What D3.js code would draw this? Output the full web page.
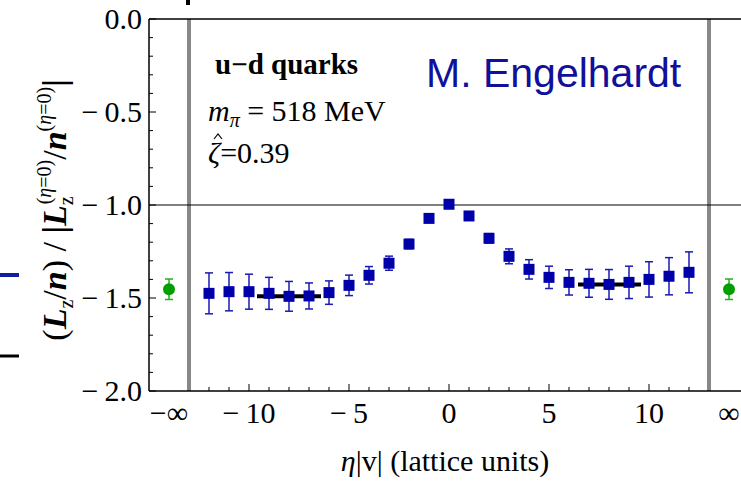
<!DOCTYPE html>
<html><head><meta charset="utf-8">
<script src="https://cdn.jsdelivr.net/npm/d3@7"></script>
<style>html,body{margin:0;padding:0;background:#fff;} svg{display:block;}</style>
</head><body>
<svg id="c" width="741" height="484"></svg>
<script>
// ---- data ----
const eta = [-12,-11,-10,-9,-8,-7,-6,-5,-4,-3,-2,-1,0,1,2,3,4,5,6,7,8,9,10,11,12];
const ratio = [-1.475,-1.466,-1.466,-1.475,-1.491,-1.489,-1.471,-1.432,-1.378,-1.313,-1.210,-1.072,-0.996,-1.059,-1.179,-1.276,-1.346,-1.389,-1.416,-1.421,-1.427,-1.416,-1.400,-1.383,-1.362];
const ratioErr = [0.110,0.103,0.094,0.086,0.080,0.070,0.063,0.055,0.047,0.038,0.025,0.015,0.0,0.015,0.025,0.040,0.052,0.060,0.068,0.075,0.080,0.087,0.095,0.100,0.110];
const infEta = [-14, 14];            // positions standing for -inf / +inf
const infValue = [-1.453, -1.453];
const infErr = [0.055, 0.055];
const fitRanges = [[-9.6, -6.4], [6.45, 9.6]];
const fitValues = [-1.490, -1.427];
const boundaryEta = [-13, 13];
const xTickMajor = [-10, -5, 0, 5, 10];
const xTickLabels = ["\u2212\u200910", "\u2212\u20095", "0", "5", "10"];
const infLabels = ["\u2212\u221E", "\u221E"];
const yTickMajor = [0, -0.5, -1, -1.5, -2];
const yTickLabels = ["0.0", "\u2212\u20090.5", "\u2212\u20091.0", "\u2212\u20091.5", "\u2212\u20092.0"];

const svg = d3.select("#c");
const x = d3.scaleLinear().domain([-15, 15]).range([149, 749]);
const y = d3.scaleLinear().domain([0, -2]).range([19, 391]);
const serif = "'Liberation Serif','Times New Roman',serif";
const blue = "#0000aa";
const green = "#00a000";

// gray boundary lines
svg.selectAll("line.bd").data(boundaryEta).enter().append("line")
  .attr("x1", d => x(d)).attr("x2", d => x(d)).attr("y1", y(0)).attr("y2", y(-2))
  .attr("stroke", "#888").attr("stroke-width", 4);

// horizontal reference line at -1
svg.append("line").attr("x1", x(-15)).attr("x2", x(15)).attr("y1", y(-1)).attr("y2", y(-1))
  .attr("stroke", "#000").attr("stroke-width", 1.2);

// frame
svg.append("line").attr("x1", x(-15)).attr("x2", x(15)).attr("y1", y(0)).attr("y2", y(0)).attr("stroke","#000").attr("stroke-width",1.5);
svg.append("line").attr("x1", x(-15)).attr("x2", x(15)).attr("y1", y(-2)).attr("y2", y(-2)).attr("stroke","#000").attr("stroke-width",1.5);
svg.append("line").attr("x1", x(-15)).attr("x2", x(-15)).attr("y1", y(0)).attr("y2", y(-2)).attr("stroke","#000").attr("stroke-width",1.5);

// x ticks (inside, pointing up)
const xMinor = d3.range(-12, 13);
svg.selectAll("line.xt").data(xMinor).enter().append("line")
  .attr("x1", d => x(d)).attr("x2", d => x(d)).attr("y1", y(-2))
  .attr("y2", d => y(-2) - (d % 5 === 0 ? 7 : 4)).attr("stroke", "#000").attr("stroke-width", 1);
svg.selectAll("text.xl").data(xTickMajor).enter().append("text")
  .attr("x", d => x(d)).attr("y", 423).attr("text-anchor", "middle")
  .attr("font-family", serif).attr("font-size", 30).text((d, i) => xTickLabels[i]);
svg.selectAll("text.il").data(infEta).enter().append("text")
  .attr("x", d => x(d)).attr("y", 423).attr("text-anchor", "middle")
  .attr("font-family", serif).attr("font-size", 30).text((d, i) => infLabels[i]);

// y ticks (inside, pointing right)
const yMinor = d3.range(0, 21).map(i => -i / 10);
svg.selectAll("line.yt").data(yMinor).enter().append("line")
  .attr("x1", x(-15)).attr("x2", (d, i) => x(-15) + (i % 5 === 0 ? 7 : 4))
  .attr("y1", d => y(d)).attr("y2", d => y(d)).attr("stroke", "#000").attr("stroke-width", 1);
svg.selectAll("text.yl").data(yTickMajor).enter().append("text")
  .attr("x", 142).attr("y", d => y(d) + 10).attr("text-anchor", "end")
  .attr("font-family", serif).attr("font-size", 30).text((d, i) => yTickLabels[i]);

// fit lines
svg.selectAll("line.fit").data(fitRanges).enter().append("line")
  .attr("x1", d => x(d[0])).attr("x2", d => x(d[1]))
  .attr("y1", (d, i) => y(fitValues[i])).attr("y2", (d, i) => y(fitValues[i]))
  .attr("stroke", "#000").attr("stroke-width", 4);

// error bars (blue)
const pts = eta.map((e, i) => ({e, v: ratio[i], s: ratioErr[i]}));
const eb = svg.append("g").attr("stroke", "#1a1ab4").attr("stroke-width", 1.5);
pts.filter(p => p.s > 0).forEach(p => {
  eb.append("line").attr("x1", x(p.e)).attr("x2", x(p.e)).attr("y1", y(p.v + p.s)).attr("y2", y(p.v - p.s));
  eb.append("line").attr("x1", x(p.e) - 4).attr("x2", x(p.e) + 4).attr("y1", y(p.v + p.s)).attr("y2", y(p.v + p.s));
  eb.append("line").attr("x1", x(p.e) - 4).attr("x2", x(p.e) + 4).attr("y1", y(p.v - p.s)).attr("y2", y(p.v - p.s));
});
svg.selectAll("rect.pt").data(pts).enter().append("rect")
  .attr("x", d => x(d.e) - 5.5).attr("y", d => y(d.v) - 5.5).attr("width", 11).attr("height", 11)
  .attr("fill", blue);

// infinity points (green)
const ipts = infEta.map((e, i) => ({e, v: infValue[i], s: infErr[i]}));
const gb = svg.append("g").attr("stroke", "#20b020").attr("stroke-width", 1.5);
ipts.forEach(p => {
  gb.append("line").attr("x1", x(p.e)).attr("x2", x(p.e)).attr("y1", y(p.v + p.s)).attr("y2", y(p.v - p.s));
  gb.append("line").attr("x1", x(p.e) - 4).attr("x2", x(p.e) + 4).attr("y1", y(p.v + p.s)).attr("y2", y(p.v + p.s));
  gb.append("line").attr("x1", x(p.e) - 4).attr("x2", x(p.e) + 4).attr("y1", y(p.v - p.s)).attr("y2", y(p.v - p.s));
});
svg.selectAll("circle.ip").data(ipts).enter().append("circle")
  .attr("cx", d => x(d.e)).attr("cy", d => y(d.v)).attr("r", 6).attr("fill", green);

// annotations
svg.append("text").attr("x", 215).attr("y", 74).attr("font-family", serif).attr("font-size", 29)
  .attr("font-weight", "bold").text("u\u2212d quarks");
const t2 = svg.append("text").attr("x", 208).attr("y", 121).attr("font-family", serif).attr("font-size", 30);
t2.append("tspan").attr("font-style", "italic").text("m");
t2.append("tspan").attr("font-style", "italic").attr("font-size", 20).attr("dy", 6).text("\u03C0");
t2.append("tspan").attr("dy", -6).text(" = 518 MeV");
const t3 = svg.append("text").attr("x", 208).attr("y", 163).attr("font-family", serif).attr("font-size", 30);
t3.append("tspan").attr("font-style", "italic").text("\u03B6");
t3.append("tspan").text("=0.39");
// hat over zeta drawn as a small stroke
svg.append("path").attr("d", "M214,139 L218,134 L222,139")
  .attr("fill", "none").attr("stroke", "#000").attr("stroke-width", 1.2);

svg.append("text").attr("x", 426).attr("y", 87).attr("font-family", "'Liberation Sans',Arial,sans-serif")
  .attr("font-size", 41).attr("fill", "#10109a").text("M. Engelhardt");

// x title
const xt = svg.append("text").attr("x", 445).attr("y", 471).attr("text-anchor", "middle")
  .attr("font-family", serif).attr("font-size", 30);
xt.append("tspan").attr("font-style", "italic").text("\u03B7");
xt.append("tspan").text("|v| (lattice units)");

// y title (rotated)
const yt = svg.append("text").attr("transform", "translate(66,210) rotate(-90)")
  .attr("text-anchor", "middle").attr("font-family", serif).attr("font-size", 34);
yt.append("tspan").text("(");
yt.append("tspan").attr("font-style", "italic").attr("font-weight", "bold").text("L");
yt.append("tspan").attr("font-size", 20).attr("dy", 7).text("z");
yt.append("tspan").attr("dy", -7).text("/");
yt.append("tspan").attr("font-style", "italic").attr("font-weight", "bold").text("n");
yt.append("tspan").text(") / ");
yt.append("tspan").attr("font-weight", "bold").text("|");
yt.append("tspan").attr("font-style", "italic").attr("font-weight", "bold").text("L");
yt.append("tspan").attr("font-size", 20).attr("dy", 7).text("z");
yt.append("tspan").attr("font-size", 20).attr("dx", -8).attr("dy", -22).text("(");
yt.append("tspan").attr("font-size", 20).attr("font-style", "italic").text("\u03B7");
yt.append("tspan").attr("font-size", 20).text("=0)");
yt.append("tspan").attr("dy", 15).text("/");
yt.append("tspan").attr("font-style", "italic").attr("font-weight", "bold").text("n");
yt.append("tspan").attr("font-size", 20).attr("dy", -15).text("(");
yt.append("tspan").attr("font-size", 20).attr("font-style", "italic").text("\u03B7");
yt.append("tspan").attr("font-size", 20).text("=0)");
yt.append("tspan").attr("font-weight", "bold").attr("dy", 15).text("|");

// cropped legend / frame fragments at the edges of the original picture
svg.append("line").attr("x1", 0).attr("x2", 19).attr("y1", 275).attr("y2", 275).attr("stroke", "#1020a0").attr("stroke-width", 4);
svg.append("line").attr("x1", 0).attr("x2", 19).attr("y1", 356).attr("y2", 356).attr("stroke", "#000").attr("stroke-width", 3);
svg.append("line").attr("x1", 188).attr("x2", 188).attr("y1", 0).attr("y2", 5).attr("stroke", "#000").attr("stroke-width", 4);
</script>
</body></html>
